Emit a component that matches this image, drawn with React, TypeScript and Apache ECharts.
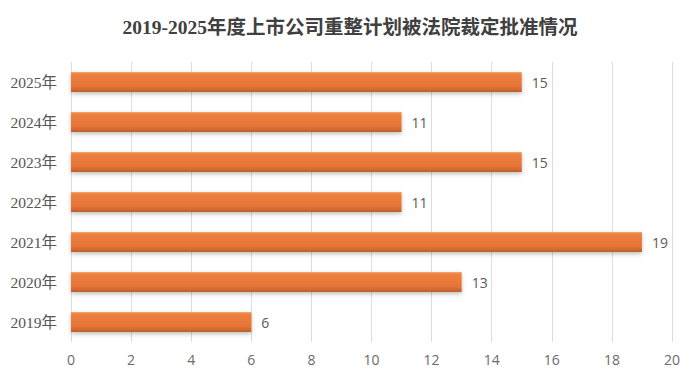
import React, { useEffect, useRef } from "react";
import * as echarts from "echarts";

const titleText = "2019-2025年度上市公司重整计划被法院裁定批准情况";
const categories = ["2019年", "2020年", "2021年", "2022年", "2023年", "2024年", "2025年"];
const values = [6, 13, 19, 11, 15, 11, 15];
const xMin = 0;
const xMax = 20;
const xInterval = 2;

export default function App() {
  const ref = useRef<HTMLDivElement>(null);
  useEffect(() => {
    if (!ref.current) return;
    const chart = echarts.init(ref.current, null, { renderer: "svg" });
    chart.setOption({
      animation: false,
      backgroundColor: "#ffffff",
      title: {
        text: titleText,
        left: "center",
        top: 13,
        textStyle: {
          fontFamily: "'Liberation Serif', 'Noto Sans CJK SC', serif",
          fontWeight: "bold",
          fontSize: 19.5,
          color: "#404040",
        },
      },
      grid: { left: 71, right: 28, top: 62, bottom: 36, containLabel: false },
      xAxis: {
        type: "value",
        min: xMin,
        max: xMax,
        interval: xInterval,
        axisLine: { show: false },
        axisTick: { show: false },
        splitLine: { show: true, lineStyle: { color: "#dcdcdc", width: 1 } },
        axisLabel: {
          color: "#6b6b6b",
          fontSize: 14,
          fontFamily: "'Open Sans', 'Noto Sans', sans-serif",
          margin: 10,
        },
      },
      yAxis: {
        type: "category",
        data: categories,
        axisLine: { show: false },
        axisTick: { show: false },
        axisLabel: {
          color: "#555555",
          fontSize: 15.5,
          fontFamily: "'Liberation Serif', 'Noto Sans CJK SC', serif",
          margin: 14,
        },
      },
      series: [
        {
          type: "bar",
          data: values,
          barWidth: 20,
          itemStyle: {
            color: new echarts.graphic.LinearGradient(0, 0, 0, 1, [
              { offset: 0, color: "#F4A56E" },
              { offset: 0.12, color: "#EC803F" },
              { offset: 0.7, color: "#E67636" },
              { offset: 1, color: "#BF5F2C" },
            ]),
            shadowColor: "rgba(0,0,0,0.25)",
            shadowBlur: 4,
            shadowOffsetY: 2,
          },
          label: {
            show: true,
            position: "right",
            distance: 10,
            color: "#595959",
            fontSize: 14,
            fontFamily: "'Open Sans', 'Noto Sans', sans-serif",
          },
        },
      ],
    });
    return () => chart.dispose();
  }, []);
  return <div ref={ref} style={{ width: 700, height: 378, position: "absolute", left: 0, top: 0 }} />;
}
